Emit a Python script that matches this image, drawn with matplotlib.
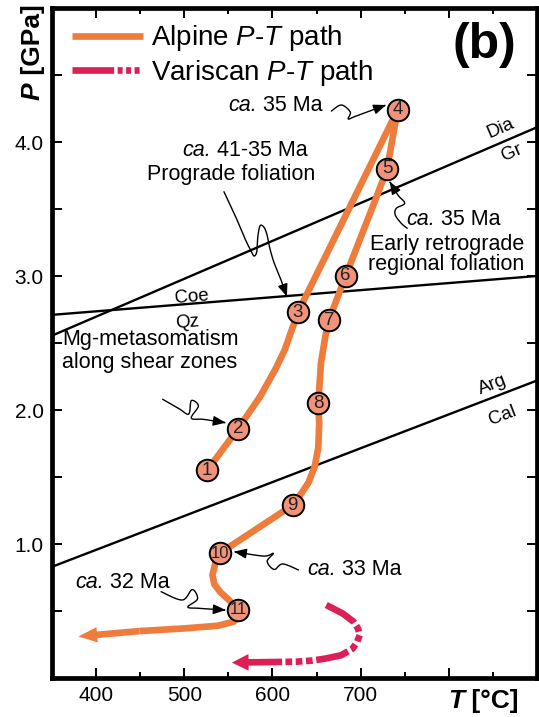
import numpy as np
import matplotlib
matplotlib.use("Agg")
import matplotlib.pyplot as plt
from matplotlib.patches import FancyArrowPatch
from matplotlib.path import Path
from matplotlib.lines import Line2D
from matplotlib.ticker import MultipleLocator, FuncFormatter

plt.rcParams['font.family'] = ['Liberation Sans', 'DejaVu Sans']
plt.rcParams['mathtext.fontset'] = 'custom'
plt.rcParams['mathtext.rm'] = 'Liberation Sans'
plt.rcParams['mathtext.it'] = 'Liberation Sans:italic'
plt.rcParams['mathtext.bf'] = 'Liberation Sans:bold'
plt.rcParams['lines.scale_dashes'] = False

# ---- data -------------------------------------------------------------
# numbered stages on the Alpine path
stage_labels = ['1', '2', '3', '4', '5', '6', '7', '8', '9', '10', '11']
stage_T = [526, 561, 629, 742, 730, 683, 664, 652, 623, 540, 561]
stage_P = [1.55, 1.86, 2.73, 4.24, 3.80, 3.00, 2.67, 2.05, 1.29, 0.93, 0.51]

# Alpine P-T trace (stages plus the bends in between)
alpine_T = [526, 561, 586, 603, 614, 622, 629, 742, 730, 718, 683, 664, 660,
            655, 652, 653, 652, 648, 641, 633, 623, 540, 535, 532, 534, 541,
            551, 561, 561, 556, 538, 500, 449]
alpine_P = [1.55, 1.86, 2.10, 2.30, 2.45, 2.60, 2.73, 4.24, 3.80, 3.59, 3.00,
            2.67, 2.55, 2.35, 2.05, 1.90, 1.72, 1.58, 1.46, 1.38, 1.29, 0.93,
            0.85, 0.77, 0.70, 0.64, 0.58, 0.51, 0.46, 0.42, 0.39, 0.37, 0.35]
alpine_tip = (380, 0.31)

# Variscan P-T trace
variscan_T = [661, 680, 692, 697, 699, 696, 691, 678, 660, 645, 628, 611]
variscan_P = [0.545, 0.48, 0.42, 0.37, 0.32, 0.27, 0.22, 0.17, 0.145, 0.13,
              0.122, 0.12]
variscan_tip = (554, 0.115)

# reaction boundaries (end points at T = 350 and 900 °C)
reaction_T = [350, 900]
dia_gr_P = [2.555, 4.11]
coe_qz_P = [2.71, 3.00]
arg_cal_P = [0.83, 2.22]

x_ticks = [400, 500, 600, 700]
y_ticks = [1.0, 2.0, 3.0, 4.0]

# ---- style --------------------------------------------------------------
ORANGE = '#EE7C3C'
SALMON = '#F0937A'
CRIMSON = '#DD1F57'
LW_PATH = 4.8
FS = 15.5

fig = plt.figure(figsize=(5.39, 7.17), dpi=100)
ax = fig.add_axes([52 / 539, 39 / 717, 485 / 539, 670 / 717])
ax.set_xlim(350, 900)
ax.set_ylim(0, 5)

for sp in ax.spines.values():
    sp.set_linewidth(3.4)

ax.xaxis.set_major_locator(MultipleLocator(100))
ax.xaxis.set_minor_locator(MultipleLocator(50))
ax.yaxis.set_major_locator(MultipleLocator(0.5))
ax.xaxis.set_major_formatter(
    FuncFormatter(lambda v, p: f"{v:.0f}" if round(v) in x_ticks else ""))
ax.yaxis.set_major_formatter(
    FuncFormatter(lambda v, p: f"{v:.1f}" if any(abs(v - t) < 1e-6 for t in y_ticks) else ""))
ax.tick_params(which='both', direction='in', top=True, right=True, width=1.4,
               labelsize=15, pad=6)
ax.tick_params(which='major', length=7.5)
ax.tick_params(which='minor', length=4.5)

# reaction lines
for P in (dia_gr_P, coe_qz_P, arg_cal_P):
    ax.plot(reaction_T, P, color='black', lw=1.7, zorder=2)

def line_label(txt, T, P, slope):
    ang = np.degrees(np.arctan(slope))
    ax.text(T, P, txt, fontsize=13.5, ha='center', va='center', rotation=ang,
            transform_rotates_text=True, rotation_mode='anchor', zorder=3)

s_dia = (dia_gr_P[1] - dia_gr_P[0]) / (reaction_T[1] - reaction_T[0])
s_coe = (coe_qz_P[1] - coe_qz_P[0]) / (reaction_T[1] - reaction_T[0])
s_arg = (arg_cal_P[1] - arg_cal_P[0]) / (reaction_T[1] - reaction_T[0])
line_label('Dia', 859, 4.10, s_dia)
line_label('Gr', 872, 3.92, s_dia)
line_label('Coe', 509, 2.84, s_coe)
line_label('Qz', 503, 2.65, s_coe)
line_label('Arg', 849, 2.19, s_arg)
line_label('Cal', 861, 1.96, s_arg)

# Alpine path
ax.plot(alpine_T, alpine_P, color=ORANGE, lw=LW_PATH, solid_joinstyle='round',
        solid_capstyle='butt', zorder=4)
ax.add_patch(FancyArrowPatch((alpine_T[-1], alpine_P[-1]), alpine_tip,
                             arrowstyle='simple,head_length=13.5,head_width=11,tail_width=4.8',
                             mutation_scale=1, lw=0, color=ORANGE, shrinkA=0, shrinkB=0,
                             zorder=4))

# Variscan path
ax.plot(variscan_T, variscan_P, color=CRIMSON, lw=LW_PATH,
        dashes=[24, 2.6, 4.8, 2.6, 4.8, 2.6, 4.8, 2.6], dash_capstyle='butt',
        zorder=4)
ax.add_patch(FancyArrowPatch((variscan_T[-1], variscan_P[-1]), variscan_tip,
                             arrowstyle='simple,head_length=12,head_width=12,tail_width=4.8',
                             mutation_scale=1, lw=0, color=CRIMSON, shrinkA=0, shrinkB=0,
                             zorder=4))

# numbered stage markers
ax.plot(stage_T, stage_P, 'o', ms=15.5, mfc=SALMON, mec='black', mew=1.4,
        ls='none', zorder=5)
for lab, T, P in zip(stage_labels, stage_T, stage_P):
    ax.text(T, P, lab, fontsize=13.5 if len(lab) == 1 else 12, ha='center',
            va='center', color='#222222', zorder=6)

# hand-drawn style pointer arrows
def catmull(pts, n=16):
    pts = np.asarray(pts, float)
    ext = np.vstack([pts[0], pts, pts[-1]])
    out = []
    for i in range(1, len(ext) - 2):
        p0, p1, p2, p3 = ext[i - 1], ext[i], ext[i + 1], ext[i + 2]
        t = np.linspace(0, 1, n, endpoint=False)[:, None]
        out.append(0.5 * ((2 * p1) + (-p0 + p2) * t +
                          (2 * p0 - 5 * p1 + 4 * p2 - p3) * t ** 2 +
                          (-p0 + 3 * p1 - 3 * p2 + p3) * t ** 3))
    out.append(pts[-1][None, :])
    return np.vstack(out)

def squiggle(pts):
    verts = catmull(pts)
    ax.add_patch(FancyArrowPatch(path=Path(verts),
                                 arrowstyle='-|>,head_length=7.5,head_width=3',
                                 mutation_scale=1, lw=1.0, color='black',
                                 zorder=3))

squiggle([(666.8, 4.231), (678.1, 4.276), (688.2, 4.224), (686.0, 4.172),
          (695.0, 4.194), (728.8, 4.276)])
squiggle([(545.0, 3.629), (558.2, 3.443), (569.5, 3.269), (576.2, 3.181),
          (579.2, 3.149), (582.2, 3.181), (583.4, 3.293), (586.0, 3.375),
          (590.5, 3.363), (593.9, 3.306), (596.6, 3.219), (601.4, 3.107),
          (609.0, 2.983), (616.4, 2.846)])
squiggle([(752.8, 3.356), (746.1, 3.393), (739.3, 3.455), (740.4, 3.505),
          (749.9, 3.543), (742.3, 3.604), (733.0, 3.704)])
squiggle([(475.5, 2.080), (494.0, 2.010), (505.0, 1.970), (508.0, 2.070),
          (516.0, 2.030), (508.0, 1.940), (522.0, 1.930), (547.0, 1.905)])
squiggle([(629.6, 0.806), (611.6, 0.851), (602.0, 0.810), (594.0, 0.870),
          (601.0, 0.930), (590.0, 0.910), (556.3, 0.943)])
squiggle([(473.7, 0.644), (497.7, 0.582), (509.0, 0.660), (515.0, 0.590),
          (504.0, 0.530), (517.0, 0.520), (547.0, 0.507)])

# annotation texts; "ca." set in italics ahead of the plain remainder
renderer = fig.canvas.get_renderer()
px_per_T = ax.get_window_extent(renderer).width / (900 - 350)

def ca_label(T, P, rest, ha):
    t1 = ax.text(T, P, 'ca.', fontsize=FS, fontstyle='italic', ha='left',
                 va='baseline')
    t2 = ax.annotate(' ' + rest, xy=(1, 0), xycoords=t1, fontsize=FS,
                     ha='left', va='bottom')
    w = t1.get_window_extent(renderer).width + t2.get_window_extent(renderer).width
    shift = {'left': 0.0, 'center': 0.5, 'right': 1.0}[ha] * w / px_per_T
    t1.set_x(T - shift)

ca_label(656.7, 4.234, '35 Ma', 'right')
ca_label(568.5, 3.896, '41-35 Ma', 'center')
ax.text(552.6, 3.716, 'Prograde foliation', fontsize=FS, ha='center', va='baseline')
ca_label(805.2, 3.381, '35 Ma', 'center')
ax.text(797.6, 3.194, 'Early retrograde', fontsize=FS, ha='center', va='baseline')
ax.text(796.8, 3.045, 'regional foliation', fontsize=FS, ha='center', va='baseline')
ax.text(361.3, 2.485, 'Mg-metasomatism', fontsize=FS, ha='left', va='baseline')
ax.text(361.3, 2.313, 'along shear zones', fontsize=FS, ha='left', va='baseline')
ca_label(639.0, 0.769, '33 Ma', 'left')
ca_label(375.9, 0.672, '32 Ma', 'left')

# panel tag
fig.text(484 / 539, 1 - 45 / 717, '(b)', fontsize=36, fontweight='bold',
         ha='center', va='center')

# legend
handles = [Line2D([], [], color=ORANGE, lw=LW_PATH, solid_capstyle='butt'),
           Line2D([], [], color=CRIMSON, lw=LW_PATH, dash_capstyle='butt',
                  dashes=[30, 2.5, 3.6, 2.5, 3.6, 2.5, 3.6, 20])]
labels = [r'Alpine $\mathit{P}$-$\mathit{T}$ path',
          r'Variscan $\mathit{P}$-$\mathit{T}$ path']
ax.legend(handles, labels, loc='upper left', bbox_to_anchor=(0.041, 0.977),
          frameon=False, fontsize=20, handlelength=2.55, handletextpad=0.3,
          labelspacing=0.17, borderaxespad=0, borderpad=0)

# axis titles (italic bold symbol + bold unit)
ptxt = fig.text(33 / 539, 1 - 100 / 717, 'P', fontsize=19, fontweight='bold',
                fontstyle='italic', rotation=90, ha='center', va='bottom')
ax.annotate(' [GPa]', xy=(0.5, 1), xycoords=ptxt, fontsize=19,
            fontweight='bold', rotation=90, ha='center', va='bottom',
            annotation_clip=False)
ttxt = fig.text(448 / 539, 1 - 713 / 717, 'T', fontsize=19, fontweight='bold',
                fontstyle='italic', ha='left', va='bottom')
ax.annotate(' [°C]', xy=(1, 0), xycoords=ttxt, fontsize=19, fontweight='bold',
            ha='left', va='bottom', annotation_clip=False)

fig.savefig('out.png', dpi=100)
